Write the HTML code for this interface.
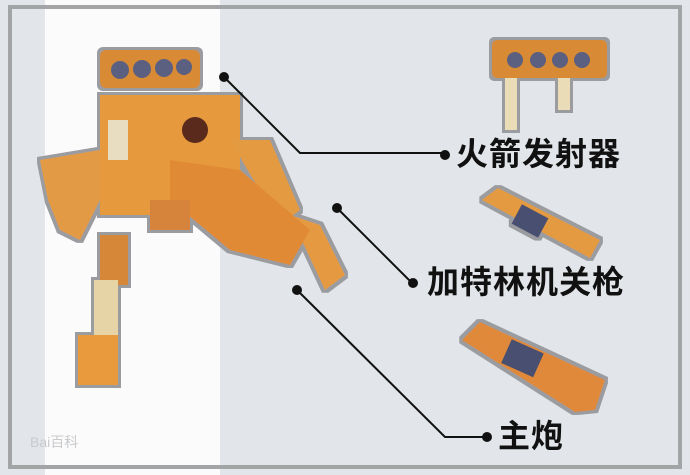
<!DOCTYPE html>
<html><head><meta charset="utf-8"><style>
html,body{margin:0;padding:0;}
body{width:690px;height:475px;position:relative;overflow:hidden;background:#e2e5e9;font-family:"Liberation Sans","Noto Sans CJK SC",sans-serif;}
.band{position:absolute;left:45px;top:0;width:175px;height:475px;background:#fbfbfc;}
.frame{position:absolute;left:8px;top:5px;width:666px;height:456px;border:4px solid #a2a4a6;}
.lbl{position:absolute;font-size:32px;font-weight:bold;color:#111;line-height:1;letter-spacing:1px;white-space:nowrap;}
svg{position:absolute;left:0;top:0;}
</style></head><body>
<div class="band"></div>
<div class="frame"></div>
<svg width="690" height="475">
<defs><filter id="o"><feMorphology operator="dilate" radius="3" in="SourceAlpha" result="d"/><feFlood flood-color="#9a9ca0"/><feComposite in2="d" operator="in"/><feMerge><feMergeNode/><feMergeNode in="SourceGraphic"/></feMerge></filter></defs>
<g filter="url(#o)">
 <rect x="100" y="50" width="100" height="38" rx="6" fill="#d98a34"/>
 <circle cx="120" cy="70" r="9" fill="#5c6080"/><circle cx="142" cy="69" r="9" fill="#5c6080"/><circle cx="164" cy="68" r="9" fill="#5c6080"/><circle cx="184" cy="67" r="8" fill="#5c6080"/>
 <rect x="100" y="95" width="140" height="120" fill="#e69a3e"/>
 <rect x="108" y="120" width="20" height="40" fill="#e8ddc0"/>
 <circle cx="195" cy="130" r="13" fill="#5a2a1c"/>
 <polygon points="100,150 40,160 48,200 60,230 80,240 100,200" fill="#e39a45"/>
 <rect x="100" y="235" width="28" height="50" fill="#d68838"/>
 <rect x="94" y="280" width="24" height="60" fill="#e6d3a6"/>
 <rect x="78" y="335" width="40" height="50" fill="#e99a3e"/>
 <polygon points="230,140 270,140 300,210 280,225" fill="#e49a40"/>
 <polygon points="290,215 320,225 345,275 325,290" fill="#e59a42"/>
 <polygon points="170,160 240,170 310,230 290,265 230,250 170,200" fill="#e08a34"/>
 <rect x="150" y="200" width="40" height="30" fill="#d6843a"/>
</g>
<g filter="url(#o)">
 <rect x="492" y="40" width="115" height="38" rx="5" fill="#d98a34"/>
 <circle cx="515" cy="60" r="8" fill="#5c6080"/><circle cx="538" cy="60" r="8" fill="#5c6080"/><circle cx="560" cy="60" r="8" fill="#5c6080"/><circle cx="582" cy="60" r="8" fill="#5c6080"/>
 <rect x="505" y="78" width="12" height="52" fill="#e9dcb6"/>
 <rect x="558" y="78" width="12" height="32" fill="#e9dcb6"/>
 <polygon points="482,200 498,188 600,240 590,258" fill="#e49a40"/>
 <rect x="515" y="210" width="30" height="22" fill="#4a5070" transform="rotate(28 530 221)"/>
 <polygon points="462,340 480,322 605,380 595,410 575,412" fill="#e0893a"/>
 <rect x="505" y="345" width="35" height="26" fill="#4a5070" transform="rotate(24 522 358)"/>
</g>
<g stroke="#111" stroke-width="2" fill="none">
 <polyline points="224,77 300,153 444,153"/>
 <polyline points="337,208 412,283 414,283"/>
 <polyline points="297,290 445,437 487,437"/>
</g>
<g fill="#111">
 <circle cx="224" cy="77" r="5"/><circle cx="445" cy="155" r="5"/>
 <circle cx="337" cy="208" r="5"/><circle cx="413" cy="283" r="5"/>
 <circle cx="297" cy="290" r="5"/><circle cx="487" cy="437" r="5"/>
</g>
<text x="30" y="447" font-size="14" fill="#c8cacc" font-family="Liberation Sans,Noto Sans CJK SC,sans-serif">Bai百科</text>
</svg>
<div class="lbl" style="left:456px;top:138px;">火箭发射器</div>
<div class="lbl" style="left:427px;top:266px;">加特林机关枪</div>
<div class="lbl" style="left:498px;top:420px;">主炮</div>
</body></html>
